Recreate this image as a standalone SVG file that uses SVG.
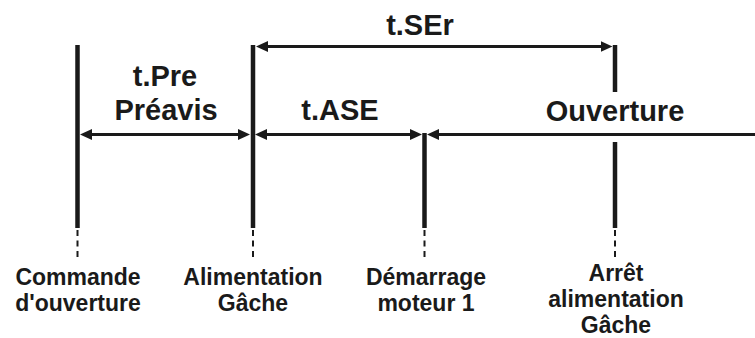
<svg xmlns="http://www.w3.org/2000/svg" width="755" height="338" viewBox="0 0 755 338">
  <style>
    .bg { fill: #ffffff; }
    .tick { stroke: #1a1a1a; stroke-width: 4.5; fill: none; }
    .dash { stroke: #1a1a1a; stroke-width: 2; stroke-dasharray: 6 4.5; fill: none; }
    .arrow { stroke: #1a1a1a; stroke-width: 3; fill: none; }
    .big { font-family: "Liberation Sans", Arial, sans-serif; font-weight: bold; font-size: 29px; fill: #1a1a1a; text-anchor: middle; }
    .lbl { font-family: "Liberation Sans", Arial, sans-serif; font-weight: bold; font-size: 23px; fill: #1a1a1a; text-anchor: middle; }
  </style>
  <defs>
    <marker id="ah" viewBox="0 0 12 11" markerWidth="12" markerHeight="11" refX="6" refY="5.5" markerUnits="userSpaceOnUse" orient="auto-start-reverse">
      <path d="M0,0 L12,5.5 L0,11 Z" fill="#1a1a1a"/>
    </marker>
  </defs>
  <rect class="bg" x="0" y="0" width="755" height="338"/>

  <g id="connectors">
    <line class="arrow" x1="262" y1="46.5" x2="606.5" y2="46.5" marker-start="url(#ah)" marker-end="url(#ah)"/>
    <line class="arrow" x1="86" y1="134.5" x2="244" y2="134.5" marker-start="url(#ah)" marker-end="url(#ah)"/>
    <line class="arrow" x1="261" y1="134.5" x2="416" y2="134.5" marker-start="url(#ah)" marker-end="url(#ah)"/>
    <line class="arrow" x1="433" y1="134.5" x2="755" y2="134.5" marker-start="url(#ah)"/>
  </g>

  <g id="commande">
    <line class="tick" x1="77.5" y1="45" x2="77.5" y2="228"/>
    <line class="dash" x1="77.5" y1="230" x2="77.5" y2="258"/>
    <text class="lbl" x="78" y="285">Commande</text>
    <text class="lbl" x="78" y="311">d'ouverture</text>
  </g>

  <g id="alimentation">
    <line class="tick" x1="253" y1="45" x2="253" y2="228"/>
    <line class="dash" x1="253" y1="230" x2="253" y2="258"/>
    <text class="lbl" x="253" y="285">Alimentation</text>
    <text class="lbl" x="253" y="311">Gâche</text>
  </g>

  <g id="demarrage">
    <line class="tick" x1="424.5" y1="133" x2="424.5" y2="228"/>
    <line class="dash" x1="424.5" y1="230" x2="424.5" y2="258"/>
    <text class="lbl" x="426" y="285">Démarrage</text>
    <text class="lbl" x="426" y="311">moteur 1</text>
  </g>

  <g id="arret">
    <line class="tick" x1="615" y1="45" x2="615" y2="92"/>
    <line class="tick" x1="615" y1="142" x2="615" y2="228"/>
    <line class="dash" x1="615" y1="230" x2="615" y2="258"/>
    <text class="lbl" x="616" y="281">Arrêt</text>
    <text class="lbl" x="616" y="307">alimentation</text>
    <text class="lbl" x="616" y="333">Gâche</text>
  </g>

  <g id="labels">
    <text class="big" x="420" y="35">t.SEr</text>
    <text class="big" x="165" y="86">t.Pre</text>
    <text class="big" x="166" y="120">Préavis</text>
    <text class="big" x="340" y="120">t.ASE</text>
    <text class="big" x="615" y="121">Ouverture</text>
  </g>
</svg>
